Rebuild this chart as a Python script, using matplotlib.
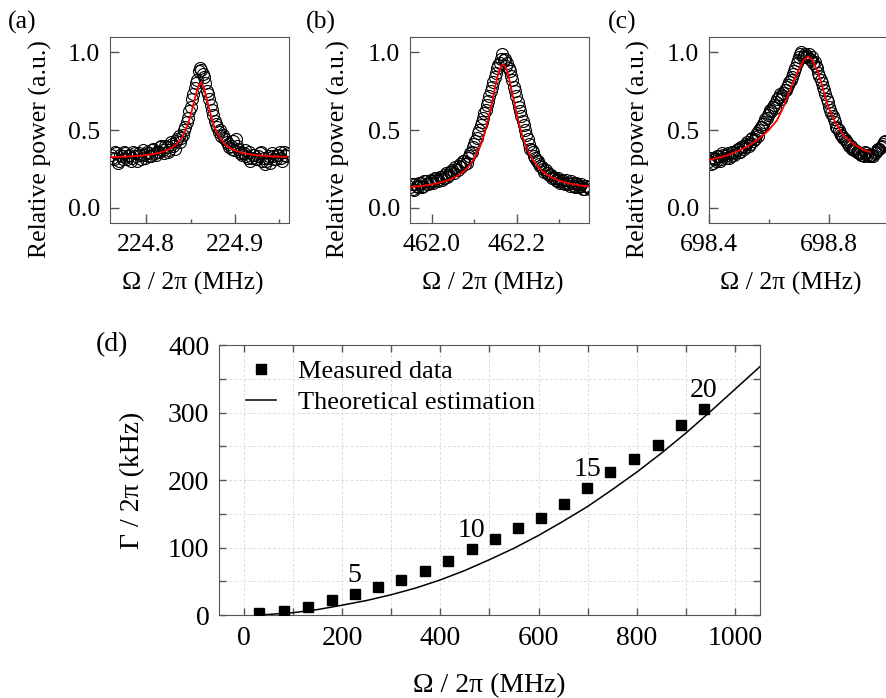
import numpy as np
import matplotlib
matplotlib.use("Agg")
import matplotlib.pyplot as plt
from matplotlib.ticker import MultipleLocator, FixedLocator

plt.rcParams['font.family'] = ['Liberation Serif', 'DejaVu Serif']
plt.rcParams['mathtext.fontset'] = 'stix'

# ---- data ----
# (a) mode near 224.86 MHz, two interleaved sweeps of points
freq_a = np.round(np.arange(224.760, 224.9585, 0.003), 4)
power_a = [.34, .31, .35, .30, .33, .36, .31, .34, .32, .35,
           .30, .34, .37, .32, .35, .33, .38, .34, .36, .40,
           .35, .39, .37, .41, .38, .44, .42, .47, .52, .58,
           .65, .73, .80, .88, .89, .84, .75, .70, .63, .56,
           .52, .50, .47, .44, .41, .40, .43, .44, .38, .36,
           .35, .33, .36, .32, .34, .31, .35, .30, .28, .32,
           .29, .33, .31, .34, .32, .36, .33]
power_a2 = [.32, .36, .29, .34, .31, .35, .33, .30, .36, .33,
            .35, .31, .34, .36, .33, .37, .35, .36, .39, .37,
            .40, .36, .42, .40, .43, .46, .45, .50, .55, .62,
            .70, .77, .82, .90, .86, .80, .73, .66, .60, .54,
            .49, .46, .45, .42, .39, .38, .37, .40, .35, .34,
            .37, .32, .30, .34, .31, .33, .36, .32, .30, .33,
            .35, .31, .34, .36, .30, .34, .35]
fit_a = [.325, .326, .326, .327, .328, .328, .329, .330, .331, .332,
         .333, .335, .336, .338, .340, .342, .345, .348, .352, .357,
         .362, .369, .377, .387, .399, .415, .435, .461, .495, .539,
         .595, .662, .732, .788, .806, .772, .707, .636, .572, .520,
         .480, .450, .426, .408, .394, .382, .373, .366, .360, .355,
         .351, .347, .344, .341, .339, .337, .336, .334, .333, .332,
         .330, .329, .329, .328, .327, .327, .326]

# (b) mode near 462.17 MHz
freq_b = np.round(np.arange(461.950, 462.3705, 0.006), 4)
power_b = [.13, .12, .15, .13, .16, .14, .17, .15, .18, .16,
           .19, .17, .20, .19, .22, .21, .23, .22, .25, .27,
           .26, .30, .29, .33, .36, .41, .45, .50, .55, .61,
           .66, .72, .78, .84, .90, .93, .99, .96, .93, .88,
           .82, .75, .68, .62, .56, .50, .44, .38, .36, .32,
           .30, .27, .25, .24, .22, .21, .20, .18, .19, .17,
           .16, .18, .15, .17, .14, .16, .13, .15, .12, .14,
           .13]
power_b2 = [.15, .11, .14, .16, .13, .17, .15, .16, .17, .19,
            .18, .20, .18, .21, .20, .23, .24, .26, .24, .28,
            .30, .28, .32, .35, .39, .43, .48, .53, .58, .63,
            .69, .75, .81, .87, .92, .96, .95, .91, .90, .85,
            .78, .72, .65, .59, .53, .47, .41, .37, .33, .30,
            .28, .26, .23, .22, .21, .19, .19, .17, .16, .18,
            .15, .16, .14, .16, .13, .15, .14, .12, .14, .13,
            .12]
fit_b = [.132, .133, .135, .136, .138, .140, .143, .145, .148, .151,
         .154, .158, .162, .167, .172, .178, .184, .192, .201, .210,
         .222, .235, .250, .269, .290, .315, .346, .381, .424, .475,
         .535, .604, .680, .759, .834, .892, .921, .915, .875, .810,
         .733, .654, .580, .514, .457, .409, .369, .335, .306, .282,
         .262, .245, .230, .218, .207, .198, .189, .182, .176, .170,
         .165, .161, .157, .153, .150, .147, .144, .142, .140, .138,
         .136]

# (c) mode near 698.73 MHz
freq_c = np.round(np.arange(698.400, 698.985, 0.008), 4)
power_c = [.30, .28, .32, .30, .33, .31, .34, .32, .35, .33,
           .36, .35, .38, .36, .40, .39, .42, .41, .45, .44,
           .48, .50, .52, .55, .58, .61, .62, .66, .68, .71,
           .70, .74, .76, .79, .82, .86, .90, .95, .99, .97,
           .99, .98, .96, .97, .94, .90, .85, .80, .76, .70,
           .65, .61, .57, .52, .50, .47, .45, .43, .41, .40,
           .38, .37, .36, .35, .34, .36, .34, .33, .34, .35,
           .37, .38, .40, .42]
power_c2 = [.32, .29, .31, .33, .30, .35, .33, .34, .32, .36,
            .34, .37, .36, .39, .38, .41, .40, .44, .43, .47,
            .46, .52, .54, .57, .60, .63, .65, .64, .70, .73,
            .72, .76, .78, .81, .84, .88, .93, .97, 1.00, .98,
            .97, .99, .95, .93, .91, .87, .82, .78, .73, .68,
            .63, .59, .55, .51, .48, .46, .44, .42, .40, .38,
            .37, .36, .35, .34, .33, .35, .33, .34, .33, .36,
            .38, .39, .41, .43]
fit_c_freq = [698.403, 698.459, 698.515, 698.559, 698.598, 698.626, 698.648,
              698.670, 698.692, 698.715, 698.729, 698.746, 698.765, 698.781,
              698.798, 698.820, 698.848, 698.881, 698.915, 698.937]
fit_c = [.308, .335, .379, .432, .497, .561, .647, .755, .862, .948, .974,
         .948, .862, .755, .647, .551, .465, .411, .372, .357]

# (d) linewidth vs frequency
meas_freq = [32, 83, 131, 179, 226, 274, 321, 369, 416, 464,
             511, 558, 604, 651, 699, 746, 794, 842, 889, 936]
meas_gamma = [3.5, 6, 11.5, 22, 31, 41, 52.5, 65.5, 79.5, 97.5,
              112, 129.5, 143, 165, 187.5, 211.5, 231.6, 251.4, 281, 305]
mode_labels = [5, 10, 15, 20]
theory_freq = [35, 50, 100, 150, 200, 250, 300, 350, 400, 450, 500,
               550, 600, 650, 700, 750, 800, 850, 900, 950, 1000, 1050]
theory_gamma = [0.4, 0.8, 3.4, 8, 14.5, 21.5, 30, 40, 52, 66, 82,
                99, 118, 139, 161, 186, 212, 240, 270, 302, 335, 368]

spine_col = '#555555'
fs_top = 18.5
fs_bot = 20
fig = plt.figure(figsize=(8.87, 6.98), dpi=100)

top_panels = [
    ([0.1240, 0.6805, 0.2018, 0.2665], freq_a, [power_a, power_a2], 0.0015, freq_a, fit_a,
     (224.759, 224.961), [224.8, 224.9], [224.85, 224.95], '(a)', 22, -0.324),
    ([0.4622, 0.6805, 0.2018, 0.2665], freq_b, [power_b, power_b2], 0.003, freq_b, fit_b,
     (461.949, 462.370), [462.0, 462.2], [462.1, 462.3], '(b)', 321, -0.335),
    ([0.7993, 0.6805, 0.2007, 0.2665], freq_c, [power_c, power_c2], 0.004, fit_c_freq, fit_c,
     (698.4, 698.993), [698.4, 698.8], [698.6], '(c)', 622, -0.33),
]

for rect, fx, sweeps, shift, lx, ly, xlim, major, minor, tag, tag_x, ylab_x in top_panels:
    ax = fig.add_axes(rect)
    for k, fy in enumerate(sweeps):
        ax.plot(fx + k * shift, fy, 'o', mfc='none', mec='black', mew=0.8, ms=8.6,
                zorder=2, clip_on=True)
    ax.plot(lx, ly, '-', color='red', lw=1.3, zorder=3)
    ax.set_xlim(*xlim)
    ax.set_ylim(-0.1, 1.1)
    ax.xaxis.set_major_locator(FixedLocator(major))
    ax.xaxis.set_minor_locator(FixedLocator(minor))
    ax.set_yticks([0.0, 0.5, 1.0])
    ax.set_yticklabels(['0.0', '0.5', '1.0'])
    ax.set_xticklabels(['%.1f' % v for v in major])
    ax.tick_params(which='both', direction='in', top=False, right=False,
                   color=spine_col, labelsize=fs_top)
    ax.tick_params(which='major', length=6.5, width=1)
    ax.tick_params(which='minor', length=3.2, width=1)
    ax.tick_params(axis='x', pad=8)
    ax.tick_params(axis='y', pad=7)
    for s in ax.spines.values():
        s.set_color(spine_col)
    ax.set_xlabel('Ω / 2π (MHz)', fontsize=fs_top)
    ax.set_ylabel('Relative power (a.u.)', fontsize=fs_top)
    ax.xaxis.set_label_coords(0.46, -0.265)
    ax.yaxis.set_label_coords(ylab_x, 0.40)
    fig.text(tag_x / 887, 1 - 22 / 698, tag, fontsize=fs_top, ha='center', va='center')

# bottom panel
axd = fig.add_axes([0.2469, 0.1189, 0.6099, 0.3868])
axd.plot(meas_freq, meas_gamma, 's', color='black', ms=6.5, label='Measured data', zorder=3)
axd.plot(theory_freq, theory_gamma, '-', color='black', lw=1.1,
         label='Theoretical estimation', zorder=2)
for n in mode_labels:
    axd.text(meas_freq[n - 1], meas_gamma[n - 1] + 28, str(n), fontsize=fs_bot,
             ha='center', va='center')
axd.set_xlim(-50, 1050)
axd.set_ylim(0, 400)
axd.xaxis.set_major_locator(MultipleLocator(200))
axd.xaxis.set_minor_locator(MultipleLocator(100))
axd.yaxis.set_major_locator(MultipleLocator(100))
axd.yaxis.set_minor_locator(MultipleLocator(50))
axd.grid(which='both', color='#dddddd', lw=0.7, ls=(0, (3, 2)))
axd.set_axisbelow(True)
axd.tick_params(which='both', direction='in', top=True, right=True,
                length=5, width=1, color=spine_col, labelsize=fs_bot)
axd.tick_params(axis='x', pad=8)
axd.tick_params(axis='y', pad=7)
for s in axd.spines.values():
    s.set_color(spine_col)
axd.set_xlabel('Ω / 2π (MHz)', fontsize=fs_bot)
axd.set_ylabel('Γ / 2π (kHz)', fontsize=fs_bot)
axd.xaxis.set_label_coords(0.5, -0.215)
axd.yaxis.set_label_coords(-0.137, 0.5)
axd.legend(loc='upper left', bbox_to_anchor=(0.049, 0.945), frameon=False,
           fontsize=19, borderpad=0, borderaxespad=0, handlelength=1.17,
           handletextpad=0.83, labelspacing=0.27)
fig.text(111.5 / 887, 1 - 345 / 698, '(d)', fontsize=fs_bot, ha='center', va='center')

fig.savefig('out.png', dpi=100)
